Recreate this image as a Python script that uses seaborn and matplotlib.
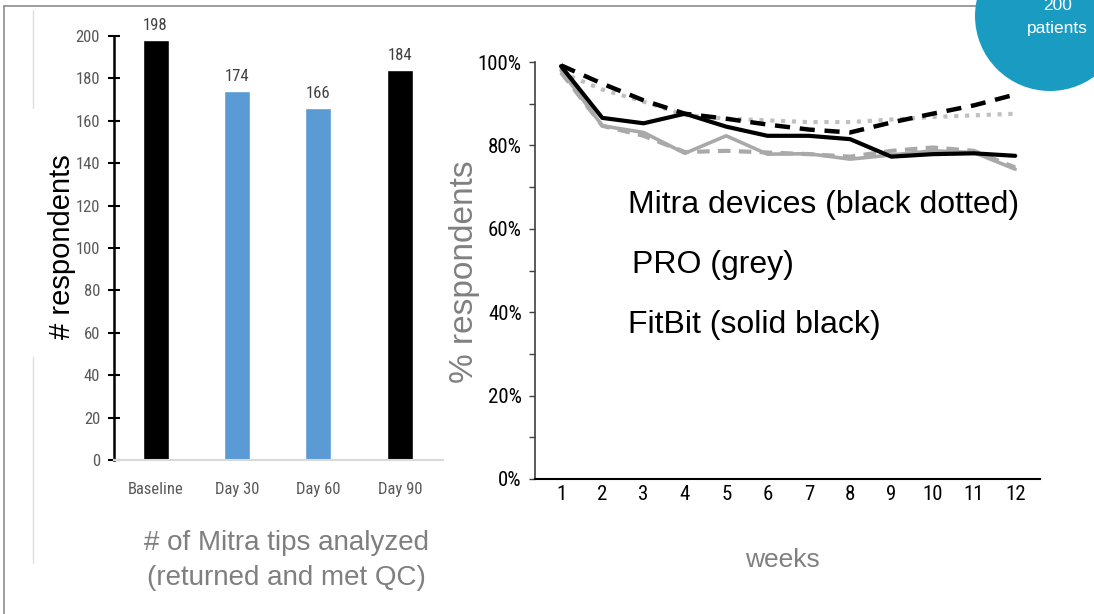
import matplotlib
matplotlib.use("Agg")
import matplotlib.pyplot as plt
from matplotlib import font_manager
from matplotlib.patches import Circle
from matplotlib.lines import Line2D
from matplotlib.ticker import MultipleLocator, FuncFormatter
import seaborn as sns
import pandas as pd

# ---- data -------------------------------------------------------------
bar_labels = ["Baseline", "Day 30", "Day 60", "Day 90"]
bar_values = [198, 174, 166, 184]
bar_colors = ["#000000", "#5B9BD5", "#5B9BD5", "#000000"]

weeks = list(range(1, 13))
mitra_dashed = [99.2, 94.8, 90.8, 87.6, 86.4, 85.0, 83.8, 83.1, 85.5, 87.6, 89.6, 92.2]
mitra_dotted = [97.5, 93.4, 90.5, 87.3, 86.4, 86.0, 85.6, 85.6, 86.2, 86.8, 87.2, 87.6]
fitbit_solid = [99.0, 86.6, 85.3, 87.6, 84.5, 82.3, 82.3, 81.5, 77.3, 77.9, 78.1, 77.5]
pro_solid = [98.0, 84.7, 83.1, 78.1, 82.3, 77.9, 78.0, 76.7, 77.7, 78.7, 78.3, 74.3]
pro_dashed = [97.5, 84.7, 82.3, 78.4, 78.7, 78.3, 77.9, 77.3, 78.7, 79.5, 78.7, 74.7]

# ---- fonts ------------------------------------------------------------
installed = {f.name for f in font_manager.fontManager.ttflist}


def first_installed(cands):
    for c in cands:
        if c in installed:
            return c
    return "DejaVu Sans"


NARROW = first_installed(["Liberation Sans Narrow", "Arial Narrow", "Roboto Condensed",
                          "Archivo Narrow", "Asap Condensed", "Barlow Semi Condensed"])

# ---- figure -----------------------------------------------------------
W, H = 1094, 614
sns.set_theme(style="white")
plt.rcParams["font.family"] = ["Liberation Sans", "DejaVu Sans"]

fig = plt.figure(figsize=(W / 100, H / 100), dpi=100)
fig.patch.set_facecolor("white")


def fx(x):
    return x / W


def fy(y):
    return 1 - y / H


# slide frame lines
fig.add_artist(Line2D([fx(4), fx(990)], [fy(6), fy(6)], color="#8c8c8c", lw=1.2))
fig.add_artist(Line2D([fx(4), fx(4)], [fy(6), fy(614)], color="#8c8c8c", lw=1.2))
fig.add_artist(Line2D([fx(33), fx(33)], [fy(10), fy(108)], color="#dedede", lw=1.0))
fig.add_artist(Line2D([fx(33), fx(33)], [fy(357), fy(563)], color="#dedede", lw=1.0))

# ---- left: bar chart --------------------------------------------------
ax1 = fig.add_axes([fx(114), fy(460), fx(443) - fx(114), (460 - 36) / H])
bars_df = pd.DataFrame({"period": bar_labels, "count": bar_values})
sns.barplot(data=bars_df, x="period", y="count", hue="period",
            palette=bar_colors, width=0.32, saturation=1, legend=False, ax=ax1)
ax1.set_xlim(-0.51, 3.53)
ax1.set_ylim(0, 200)
ax1.set_yticks(range(0, 201, 20))
for s in ["top", "right"]:
    ax1.spines[s].set_visible(False)
ax1.spines["left"].set_color("#000000")
ax1.spines["left"].set_linewidth(1.8)
ax1.spines["bottom"].set_color("#d9d9d9")
ax1.spines["bottom"].set_linewidth(1.5)
ax1.tick_params(axis="y", direction="inout", length=8, width=1.5, color="#000000",
                pad=6, labelsize=12, labelcolor="#595959", left=True)
ax1.tick_params(axis="x", length=0, pad=16, labelsize=12, labelcolor="#595959")
for lab in ax1.get_xticklabels() + ax1.get_yticklabels():
    lab.set_family(NARROW)
ax1.set_xlabel("")
ax1.set_ylabel("")
for i, v in enumerate(bar_values):
    ax1.annotate(str(v), (i, v), xytext=(0, 5), textcoords="offset points",
                 ha="center", va="bottom", fontsize=12, color="#404040", family=NARROW)

fig.text(fx(62), fy(247), "# respondents", rotation=90, ha="center", va="center",
         fontsize=21, color="#000000")
fig.text(fx(286), fy(543), "# of Mitra tips analyzed", ha="center", va="center",
         fontsize=20, color="#7f7f7f")
fig.text(fx(286), fy(578), "(returned and met QC)", ha="center", va="center",
         fontsize=20, color="#7f7f7f")

# ---- right: weekly response lines ------------------------------------
ax2 = fig.add_axes([fx(535), fy(479), fx(1040) - fx(535), (479 - 62) / H])
series = [
    (mitra_dotted, "#c0c0c0", 3.0, (0, (1, 1.6))),
    (pro_dashed, "#a9a9a9", 3.0, (0, (3, 2))),
    (pro_solid, "#a9a9a9", 2.6, "-"),
    (fitbit_solid, "#000000", 3.0, "-"),
    (mitra_dashed, "#000000", 3.2, (0, (3.4, 2.2))),
]
for vals, col, lw, ls in series:
    sns.lineplot(x=weeks, y=vals, color=col, linewidth=lw, ax=ax2)
    ax2.lines[-1].set_linestyle(ls)

ax2.set_xlim(0.37, 12.6)
ax2.set_ylim(0, 100)
ax2.set_xticks(weeks)
ax2.yaxis.set_major_locator(MultipleLocator(20))
ax2.yaxis.set_minor_locator(MultipleLocator(10))
ax2.yaxis.set_major_formatter(FuncFormatter(lambda v, p: f"{v:.0f}%"))
for s in ["top", "right"]:
    ax2.spines[s].set_visible(False)
ax2.spines["left"].set_color("#404040")
ax2.spines["left"].set_linewidth(1.2)
ax2.spines["bottom"].set_color("#000000")
ax2.spines["bottom"].set_linewidth(1.5)
ax2.tick_params(axis="y", which="both", direction="out", length=4.5, width=1.0,
                color="#404040", left=True, pad=5, labelsize=15, labelcolor="#000000")
ax2.tick_params(axis="x", length=0, pad=4, labelsize=15, labelcolor="#000000")
for lab in ax2.get_xticklabels() + ax2.get_yticklabels():
    lab.set_family(NARROW)
ax2.set_xlabel("")
ax2.set_ylabel("")

fig.text(fx(465), fy(272), "% respondents", rotation=90, ha="center", va="center",
         fontsize=24, color="#808080")
fig.text(fx(782), fy(560), "weeks", ha="center", va="center",
         fontsize=19, color="#808080")

fig.text(fx(628), fy(205), "Mitra devices (black dotted)", ha="left", va="center",
         fontsize=23, color="#000000")
fig.text(fx(632), fy(265), "PRO (grey)", ha="left", va="center",
         fontsize=23, color="#000000")
fig.text(fx(628), fy(325), "FitBit (solid black)", ha="left", va="center",
         fontsize=23, color="#000000")

# badge in the corner
badge = Circle((10.50, 5.98), 0.75, transform=fig.dpi_scale_trans,
               facecolor="#1a9cc2", edgecolor="none", zorder=5)
fig.add_artist(badge)
fig.text(fx(1058), fy(6), "200", ha="center", va="center", fontsize=12.5,
         color="white", zorder=6)
fig.text(fx(1057), fy(29), "patients", ha="center", va="center", fontsize=12.5,
         color="white", zorder=6)

fig.savefig("out.png", dpi=100, facecolor="white")
